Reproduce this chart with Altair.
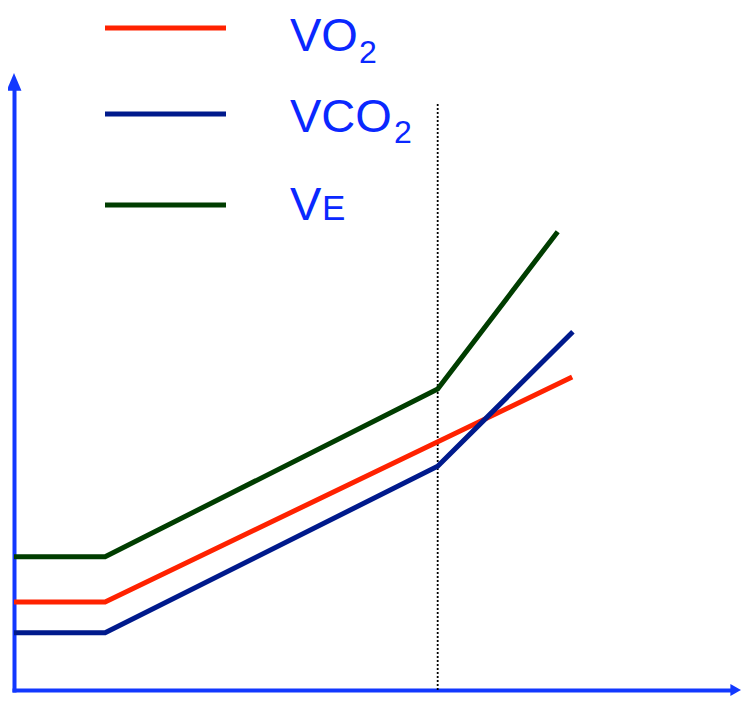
import altair as alt
import pandas as pd

# ---- data (arbitrary units: x = workload, y = response) ----
series = ["VO2", "VCO2", "VE"]
colors = ["#ff2200", "#001a8c", "#003d00"]

vo2_x = [0, 12.6, 77.2]
vo2_y = [15.1, 15.1, 52.4]
vco2_x = [0, 12.6, 58.6, 77.3]
vco2_y = [10.0, 10.0, 37.6, 59.9]
ve_x = [0, 12.6, 58.6, 75.2]
ve_y = [22.6, 22.6, 50.4, 76.5]

threshold_x = [58.6]
threshold_top = [97.7]

legend_main = ["VO", "VCO", "V"]
legend_sub = ["2", "2", "E"]

# ---- styles ----
AXIS_BLUE = "#1238ff"
TEXT_BLUE = "#0a28ff"
FONT = "Liberation Sans"

rows = []
for name, xs_, ys_ in [("VO2", vo2_x, vo2_y), ("VCO2", vco2_x, vco2_y), ("VE", ve_x, ve_y)]:
    for i, (xv, yv) in enumerate(zip(xs_, ys_)):
        rows.append({"series": name, "x": xv, "y": yv, "order": i})
df = pd.DataFrame(rows)

X_MIN, X_MAX = 0, 99.17
Y_MIN, Y_MAX = 0.5, 100.0

ax = alt.Axis(domain=True, domainColor=AXIS_BLUE, domainWidth=4, domainCap="square",
              ticks=False, labels=False, grid=False, title=None)
xsc = alt.Scale(domain=[X_MIN, X_MAX], nice=False, zero=False, padding=0)
ysc = alt.Scale(domain=[Y_MIN, Y_MAX], nice=False, zero=False, padding=0)
csc = alt.Scale(domain=series, range=colors)

thr_df = pd.DataFrame({"x": threshold_x, "y": [Y_MIN], "y2": threshold_top})
threshold = alt.Chart(thr_df).mark_rule(color="black", strokeWidth=1.8, strokeDash=[2, 2]).encode(
    x=alt.X("x:Q", scale=xsc, axis=ax),
    y=alt.Y("y:Q", scale=ysc, axis=ax),
    y2="y2:Q",
)

lines = alt.Chart(df).mark_line(strokeWidth=5, strokeCap="butt", clip=False).encode(
    x=alt.X("x:Q", scale=xsc, axis=ax),
    y=alt.Y("y:Q", scale=ysc, axis=ax),
    color=alt.Color("series:N", scale=csc, legend=None),
    detail="series:N",
    order="order:Q",
)

one = pd.DataFrame({"k": [0]})
arrow_y = alt.Chart(one).mark_point(
    shape="M0,-2L0.88,0.1L-0.88,0.1Z", size=289, filled=True, color=AXIS_BLUE, opacity=1, strokeWidth=0
).encode(x=alt.XDatum(X_MIN, scale=xsc, axis=ax), y=alt.YDatum(Y_MAX, scale=ysc, axis=ax))
arrow_x = alt.Chart(one).mark_point(
    shape="M1.67,0L-0.1,-1L-0.1,1Z", size=144, filled=True, color=AXIS_BLUE, opacity=1, strokeWidth=0
).encode(x=alt.XDatum(X_MAX, scale=xsc, axis=ax), y=alt.YDatum(Y_MIN, scale=ysc, axis=ax))

# legend layout (pixels relative to plot area)
leg_line_y = [-62, 24, 115]
leg_text_y = [-39, 42, 130]
leg_sub_x = [345, 380, 308]
leg_sub_y = [-27, 53, 130]
leg_sub_size = [32, 32, 35]

legend_layers = []
for i, name in enumerate(series):
    d = pd.DataFrame({"series": [name], "main": [legend_main[i]], "sub": [legend_sub[i]]})
    legend_layers.append(
        alt.Chart(d).mark_rule(strokeWidth=5).encode(
            x=alt.value(91), x2=alt.value(212), y=alt.value(leg_line_y[i]),
            color=alt.Color("series:N", scale=csc, legend=None),
        )
    )
    legend_layers.append(
        alt.Chart(d).mark_text(align="left", baseline="alphabetic", font=FONT, fontSize=47,
                               color=TEXT_BLUE).encode(
            x=alt.value(276), y=alt.value(leg_text_y[i]), text="main:N"
        )
    )
    legend_layers.append(
        alt.Chart(d).mark_text(align="left", baseline="alphabetic", font=FONT,
                               fontSize=leg_sub_size[i], color=TEXT_BLUE).encode(
            x=alt.value(leg_sub_x[i]), y=alt.value(leg_sub_y[i]), text="sub:N"
        )
    )

chart = alt.layer(threshold, lines, arrow_y, arrow_x, *legend_layers).properties(
    width=717,
    height=600,
    autosize=alt.AutoSizeParams(type="none"),
    padding={"left": 6, "top": 82, "right": 10, "bottom": 6},
    background="white",
).configure_view(stroke=None)

chart.save("out.html", embed_options={"renderer": "svg", "actions": False})
